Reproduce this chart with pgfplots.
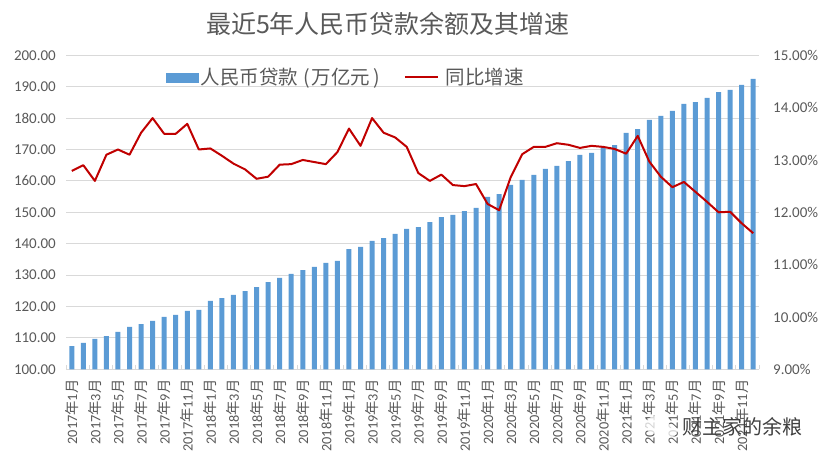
\documentclass[border=0pt]{standalone}
\usepackage{fontspec}
\usepackage{pgfplots}
\usepackage{pgfplotstable}
\pgfplotsset{compat=1.18}
\setmainfont{Carlito}
\newfontfamily\cjk{Noto Sans CJK SC}
\definecolor{barblue}{HTML}{5B9BD5}
\definecolor{linered}{HTML}{C00000}
\definecolor{gridgray}{HTML}{D9D9D9}
\definecolor{txtgray}{HTML}{595959}
\newcommand{\ym}[2]{#1{\cjk 年}#2{\cjk 月}}

% idx loan rate
\pgfplotstableread{
idx loan rate
0 107.4 12.79
1 108.4 12.90
2 109.7 12.60
3 110.6 13.10
4 111.9 13.20
5 113.5 13.10
6 114.4 13.52
7 115.4 13.80
8 116.7 13.50
9 117.3 13.50
10 118.6 13.69
11 118.9 13.20
12 121.8 13.22
13 122.7 13.08
14 123.7 12.93
15 124.9 12.82
16 126.2 12.64
17 127.8 12.68
18 129.1 12.91
19 130.4 12.92
20 131.6 13.00
21 132.6 12.96
22 133.9 12.92
23 134.5 13.15
24 138.3 13.60
25 139.0 13.27
26 140.9 13.80
27 141.8 13.52
28 143.1 13.43
29 144.7 13.25
30 145.3 12.75
31 146.9 12.60
32 148.5 12.72
33 149.2 12.52
34 150.4 12.50
35 151.4 12.54
36 154.9 12.16
37 155.8 12.04
38 158.7 12.67
39 160.3 13.11
40 161.9 13.25
41 163.8 13.25
42 164.8 13.32
43 166.3 13.29
44 168.3 13.23
45 168.9 13.27
46 170.8 13.25
47 171.4 13.21
48 175.3 13.12
49 176.5 13.46
50 179.4 12.97
51 180.7 12.68
52 182.3 12.48
53 184.5 12.58
54 185.1 12.39
55 186.4 12.20
56 188.3 12.00
57 189.0 12.01
58 190.6 11.79
59 192.5 11.60
}\loandata

\begin{document}
\begin{tikzpicture}[x=1pt,y=1pt]
\path[use as bounding box] (0,0) rectangle (828,462);

\node[text=txtgray,font=\cjk\fontsize{25}{25}\selectfont] at (388,438) {最近5年人民币贷款余额及其增速};

\begin{axis}[
    at={(66pt,92.7pt)}, anchor=south west,
    scale only axis, width=693pt, height=314pt,
    xmin=-0.5, xmax=59.5, ymin=100, ymax=200,
    axis x line*=bottom, axis y line*=left,
    y axis line style={draw=none},
    x axis line style={gridgray,line width=1pt},
    ytick={100,110,...,200},
    ymajorgrids, grid style={gridgray,line width=1pt},
    major tick length=0pt,
    minor tick length=4pt,
    minor x tick style={gridgray,line width=1pt},
    minor y tick style={draw=none},
    xtick={0,2,...,58},
    minor xtick={-0.5,1.5,...,59.5},
    xticklabels={\ym{2017}{1},\ym{2017}{3},\ym{2017}{5},\ym{2017}{7},\ym{2017}{9},\ym{2017}{11},
      \ym{2018}{1},\ym{2018}{3},\ym{2018}{5},\ym{2018}{7},\ym{2018}{9},\ym{2018}{11},
      \ym{2019}{1},\ym{2019}{3},\ym{2019}{5},\ym{2019}{7},\ym{2019}{9},\ym{2019}{11},
      \ym{2020}{1},\ym{2020}{3},\ym{2020}{5},\ym{2020}{7},\ym{2020}{9},\ym{2020}{11},
      \ym{2021}{1},\ym{2021}{3},\ym{2021}{5},\ym{2021}{7},\ym{2021}{9},\ym{2021}{11}},
    x tick label style={rotate=90,anchor=east,text=txtgray,font=\fontsize{14.3}{14.3}\selectfont,inner sep=0pt,xshift=-10pt},
    y tick label style={text=txtgray,font=\fontsize{15}{15}\selectfont,inner sep=0pt,xshift=-10pt},
    /pgf/number format/assume math mode=true,
    yticklabel style={/pgf/number format/.cd,fixed,fixed zerofill,precision=2},
]
\addplot[ybar,bar width=5pt,bar shift=0pt,fill=barblue,draw=none] table[x=idx,y=loan] {\loandata};
\end{axis}

\begin{axis}[
    at={(66pt,92.7pt)}, anchor=south west,
    scale only axis, width=693pt, height=314pt,
    xmin=-0.5, xmax=59.5, ymin=9, ymax=15,
    axis x line=none, axis y line*=right,
    y axis line style={draw=none},
    major tick length=0pt,
    ytick={9,10,...,15},
    yticklabel={\pgfmathprintnumber[fixed,fixed zerofill,precision=2]{\tick}\%},
    y tick label style={text=txtgray,font=\fontsize{15}{15}\selectfont,inner sep=0pt,xshift=14pt},
    /pgf/number format/assume math mode=true,
    legend columns=2,
    legend cell align=left,
    legend style={at={(100pt,292pt)},anchor=west,draw=none,fill=none,inner sep=0pt,
      font=\cjk\fontsize{19.5}{19.5}\selectfont,text=txtgray,
      /tikz/every even column/.append style={column sep=22pt}},
]
\addplot[color=linered,line width=2pt,line join=round,forget plot]
  table[x=idx,y=rate] {\loandata};
\addlegendimage{legend image code/.code={\fill[barblue] (0pt,-4.5pt) rectangle (32pt,4.5pt);}}
\addlegendentry{人民币贷款\kern5pt(\kern2pt万亿元\kern3pt)}
\addlegendimage{legend image code/.code={\draw[linered,line width=2pt] (0pt,0pt) -- (33pt,0pt);}}
\addlegendentry{\kern5pt同比增速}
\end{axis}

% watermark
\fill[white,opacity=0.75] (656,37) ellipse (11 and 9);
\fill[white,opacity=0.75] (668,31) ellipse (9 and 7);
\node[anchor=west,text=black!75,inner sep=0pt,font=\cjk\fontsize{20}{20}\selectfont] at (682,35) {财主家的余粮};
\end{tikzpicture}
\end{document}
